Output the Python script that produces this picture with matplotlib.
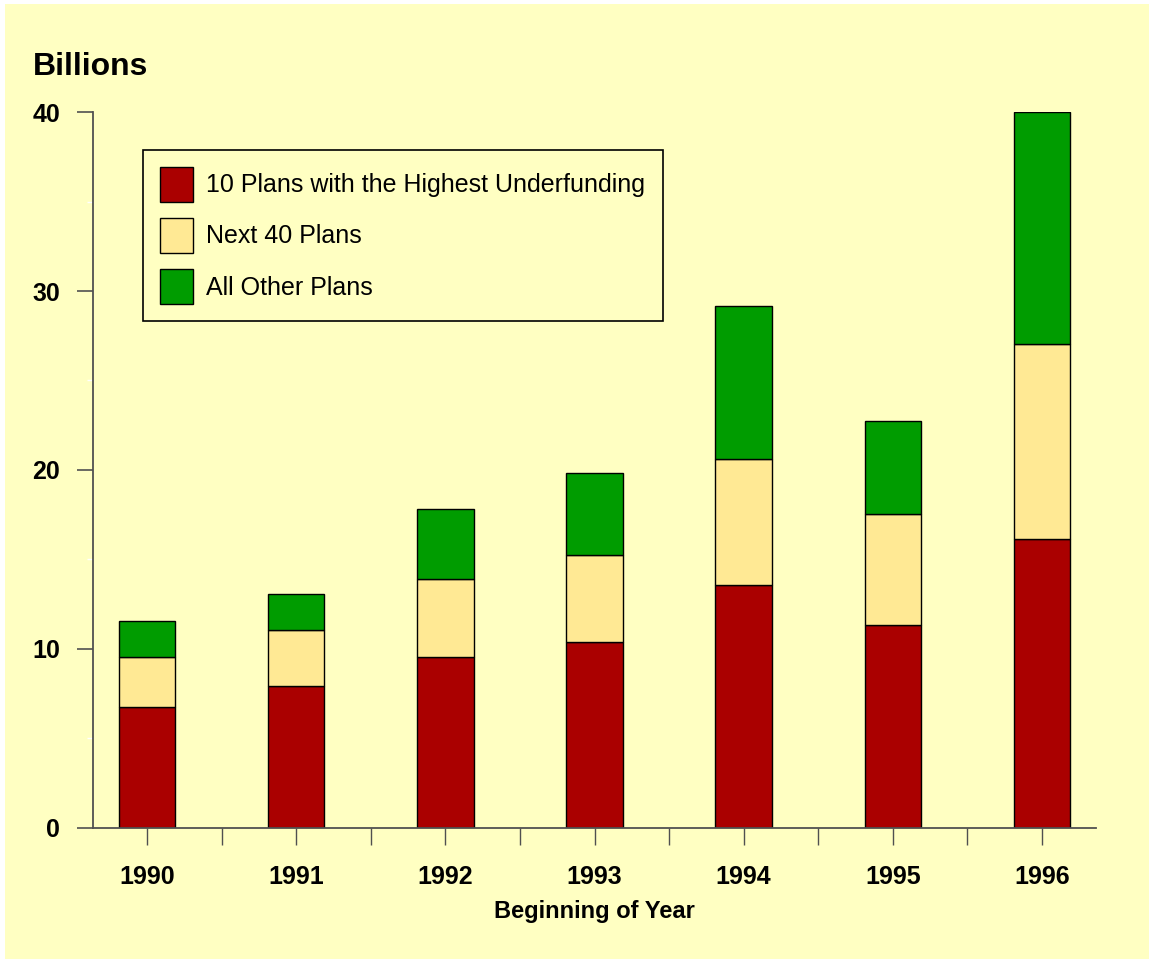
import matplotlib.pyplot as plt
from matplotlib.patches import Rectangle
import numpy as np

years = ['1990', '1991', '1992', '1993', '1994', '1995', '1996']
top10 = [6.76, 7.90, 9.52, 10.35, 13.56, 11.33, 16.16]
next40 = [2.79, 3.13, 4.38, 4.91, 7.03, 6.23, 10.86]
others = [2.02, 2.01, 3.91, 4.57, 8.57, 5.15, 12.98]
series_names = ['10 Plans with the Highest Underfunding', 'Next 40 Plans', 'All Other Plans']

bg = '#FFFFC2'
colors = ['#AA0000', '#FFE994', '#009C00']
axis_col = '#505050'

plt.rcParams['font.family'] = ['Liberation Sans', 'DejaVu Sans']

W, H = 1149, 959
fig = plt.figure(figsize=(W / 100, H / 100), dpi=100, facecolor='white')
fig.patches.append(Rectangle((5 / W, 0), 1, 1 - 4 / H, transform=fig.transFigure,
                             facecolor=bg, edgecolor='none', zorder=-10))

ax = fig.add_axes([93 / W, 131.5 / H, 1003 / W, 715.2 / H])
ax.set_facecolor(bg)

x = np.arange(len(years))
bw = 0.378
bottom = np.zeros(len(years))
for vals, col, name in zip([top10, next40, others], colors, series_names):
    ax.bar(x, vals, bw, bottom=bottom, color=col, edgecolor='black', linewidth=1.0, label=name)
    bottom += np.array(vals)

ax.set_xlim(-0.362, len(years) - 1 + 0.362)
ax.set_ylim(0, 40)

for s in ['top', 'right']:
    ax.spines[s].set_visible(False)
for s in ['left', 'bottom']:
    ax.spines[s].set_color(axis_col)
    ax.spines[s].set_linewidth(1.3)

ax.set_yticks([0, 10, 20, 30, 40])
ax.set_yticks([5, 15, 25, 35], minor=True)
ax.set_xticks(x)
ax.set_xticklabels(years)
ax.set_xticks(x[:-1] + 0.5, minor=True)

ax.tick_params(axis='y', which='major', length=11.5, width=1.2, color=axis_col, pad=12,
               labelsize=18)
ax.tick_params(axis='y', which='minor', length=4, width=1, color='white')
ax.tick_params(axis='x', which='both', length=12.2, width=1, color=axis_col)
ax.tick_params(axis='x', which='major', pad=15, labelsize=18)
for lab in ax.get_xticklabels() + ax.get_yticklabels():
    lab.set_fontweight('bold')

ax.set_xlabel('Beginning of Year', fontsize=17, fontweight='bold', labelpad=8)
fig.text(33 / W, 1 - 75 / H, 'Billions', fontsize=23, fontweight='bold', va='baseline', ha='left')

leg = ax.legend(loc='upper left', bbox_to_anchor=(142.5 / W, 1 - 149.6 / H), bbox_transform=fig.transFigure,
                fontsize=18, handlelength=1.32, handleheight=1.79, handletextpad=0.56,
                labelspacing=0.64, borderpad=0.68, borderaxespad=0, fancybox=False,
                frameon=True, framealpha=1)
leg.get_frame().set_facecolor(bg)
leg.get_frame().set_edgecolor('black')
leg.get_frame().set_linewidth(1.2)

fig.savefig('out.png', dpi=100, facecolor=fig.get_facecolor())
